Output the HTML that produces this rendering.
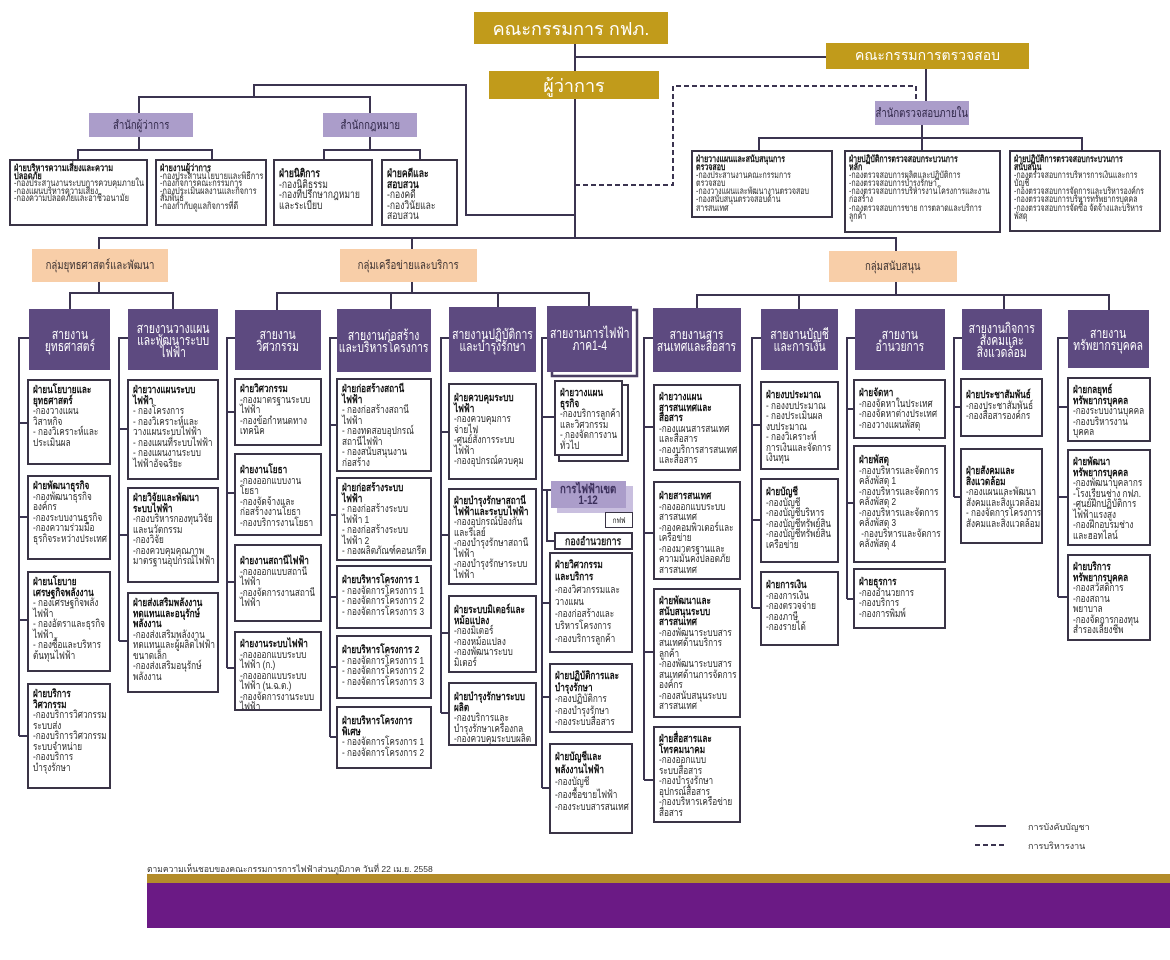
<!DOCTYPE html>
<html><head><meta charset="utf-8">
<style>
*{margin:0;padding:0;box-sizing:border-box}
html,body{width:1170px;height:960px;background:#fff;overflow:hidden;position:relative;font-family:"Liberation Sans","DejaVu Sans",sans-serif}
.g,.l,.p,.s,.c{position:absolute;display:flex;align-items:center;justify-content:center;text-align:center;white-space:nowrap;overflow:hidden}
.g{background:#c19b1b;color:#fff}
.l{background:#ab9dca;color:#2e2546;font-size:12px}
.p{background:#f8cea8;color:#3a3030;font-size:12px}
.s{background:#5d4a80;color:#fff;font-size:14px;line-height:12px}
.c{background:#fff;border:2px solid #3a3446;color:#222}
.l>span,.p>span,.c>span{display:inline-block;transform:scaleX(.8)}
.s>span{display:inline-block;transform:scaleX(.74)}
.b{position:absolute;background:#fff;border:2px solid #3a3446;padding:4px 3px 0 4px;font-size:10.5px;line-height:10.5px;white-space:nowrap;overflow:hidden;color:#2a2a2a}
.b>span{display:inline-block;transform:scaleX(.78);transform-origin:0 0}
.b b{color:#111}
.t{font-size:9.5px;line-height:7.6px;padding:4px 2px 0 3px}
.a{font-size:9.5px;line-height:8.1px;padding:4px 2px 0 3px}
.a>span{transform:scaleX(.74)}
.m{font-size:11px;line-height:10.5px}
svg{position:absolute;left:0;top:0}
</style></head><body>
<svg width="1170" height="960">
<g fill="none">
<rect x="552" y="310" width="85" height="66" stroke="#4a3f63" stroke-width="2.5"/>
<rect x="559" y="385" width="69" height="76" stroke="#3a3446" stroke-width="2"/>
<rect x="557" y="486" width="76" height="27" fill="#c9bfdf" stroke="none"/>
</g>
<g stroke="#3b3450" stroke-width="2" fill="none">
<path d="M575 44V238M575 57H826M926 69V101M575 215H466V85H254V97M139 113V97H370V113M139 137V150M78 159V150H212V159M370 137V150M324 159V150H420V159M922 125V150M759 150V138H1082V150"/>
<path d="M99 249V238H896V251M412 238V249M99 282V293M70 309V293H173V309M412 282V293M277 310V293H589V306M391 293V309M498 293V307M896 282V295M697 308V295H1109V310M799 295V309M1004 295V309"/>
<path d="M29 338H19V736M19 423H27M19 517H27M19 620H27M19 736H27"/>
<path d="M128 338H119V641M119 429H127M119 535H127M119 641H127"/>
<path d="M235 338H227V668M227 412H234M227 493H234M227 582H234M227 668H234"/>
<path d="M337 338H330V737M330 425H336M330 515H336M330 597H336M330 667H336M330 737H336"/>
<path d="M449 338H441V713M441 432H448M441 535H448M441 633H448M441 713H448"/>
<path d="M547 338H542V788M542 417H554M542 490H551M547 490V541H554M542 603H549M542 697H549M542 788H549"/>
<path d="M653 338H644V780M644 427H653M644 533H653M644 652H653M644 780H653"/>
<path d="M761 338H752V608M752 425H760M752 520H760M752 608H760"/>
<path d="M855 338H847V599M847 409H853M847 503H853M847 599H853"/>
<path d="M962 338H954V497M954 407H960M954 497H960"/>
<path d="M1068 338H1058V597M1058 407H1067M1058 497H1067M1058 597H1067"/>
<path d="M975 826H1006"/>
</g>
<g stroke="#3b3450" stroke-width="2" fill="none" stroke-dasharray="5 3">
<path d="M575 185H673V86H916V100"/>
<path d="M975 845H1006"/>
</g>
<rect x="147" y="874" width="1023" height="9" fill="#b38c2a"/>
<rect x="147" y="883" width="1023" height="45" fill="#6b1a85"/>
</svg>

<!-- top -->
<div class="g" style="left:474px;top:12px;width:194px;height:32px;font-size:18px">คณะกรรมการ กฟภ.</div>
<div class="g" style="left:826px;top:43px;width:203px;height:26px;font-size:14px">คณะกรรมการตรวจสอบ</div>
<div class="g" style="left:489px;top:71px;width:170px;height:28px;font-size:18px">ผู้ว่าการ</div>

<div class="l" style="left:875px;top:101px;width:94px;height:24px"><span>สำนักตรวจสอบภายใน</span></div>
<div class="l" style="left:89px;top:113px;width:104px;height:24px"><span>สำนักผู้ว่าการ</span></div>
<div class="l" style="left:323px;top:113px;width:94px;height:24px"><span>สำนักกฎหมาย</span></div>

<div class="b t" style="left:9px;top:159px;width:139px;height:67px"><span><b>ฝ่ายบริหารความเสี่ยงและความ<br>ปลอดภัย</b><br>-กองประสานงานระบบการควบคุมภายใน<br>-กองแผนบริหารความเสี่ยง<br>-กองความปลอดภัยและอาชีวอนามัย</span></div>
<div class="b t" style="left:155px;top:159px;width:112px;height:67px"><span><b>ฝ่ายงานผู้ว่าการ</b><br>-กองประสานนโยบายและพิธีการ<br>-กองกิจการคณะกรรมการ<br>-กองประเมินผลงานและกิจการ<br>สัมพันธ์<br>-กองกำกับดูแลกิจการที่ดี</span></div>
<div class="b m" style="left:273px;top:159px;width:100px;height:67px;padding-top:8px"><span><b>ฝ่ายนิติการ</b><br>-กองนิติธรรม<br>-กองที่ปรึกษากฎหมาย<br>และระเบียบ</span></div>
<div class="b m" style="left:381px;top:159px;width:77px;height:67px;padding-top:8px"><span><b>ฝ่ายคดีและ<br>สอบสวน</b><br>-กองคดี<br>-กองวินัยและ<br>สอบสวน</span></div>

<div class="b a" style="left:691px;top:150px;width:142px;height:68px"><span><b>ฝ่ายวางแผนและสนับสนุนการ<br>ตรวจสอบ</b><br>-กองประสานงานคณะกรรมการ<br>ตรวจสอบ<br>-กองวางแผนและพัฒนางานตรวจสอบ<br>-กองสนับสนุนตรวจสอบด้าน<br>สารสนเทศ</span></div>
<div class="b a" style="left:844px;top:150px;width:157px;height:83px"><span><b>ฝ่ายปฏิบัติการตรวจสอบกระบวนการ<br>หลัก</b><br>-กองตรวจสอบการผลิตและปฏิบัติการ<br>-กองตรวจสอบการบำรุงรักษา<br>-กองตรวจสอบการบริหารงานโครงการและงาน<br>ก่อสร้าง<br>-กองตรวจสอบการขาย การตลาดและบริการ<br>ลูกค้า</span></div>
<div class="b a" style="left:1009px;top:150px;width:152px;height:82px"><span><b>ฝ่ายปฏิบัติการตรวจสอบกระบวนการ<br>สนับสนุน</b><br>-กองตรวจสอบการบริหารการเงินและการ<br>บัญชี<br>-กองตรวจสอบการจัดการและบริหารองค์กร<br>-กองตรวจสอบการบริหารทรัพยากรบุคคล<br>-กองตรวจสอบการจัดซื้อ จัดจ้างและบริหาร<br>พัสดุ</span></div>

<div class="p" style="left:32px;top:249px;width:136px;height:33px"><span>กลุ่มยุทธศาสตร์และพัฒนา</span></div>
<div class="p" style="left:340px;top:249px;width:137px;height:33px"><span>กลุ่มเครือข่ายและบริการ</span></div>
<div class="p" style="left:829px;top:251px;width:128px;height:31px"><span>กลุ่มสนับสนุน</span></div>

<div class="s" style="left:29px;top:309px;width:81px;height:61px"><span>สายงาน<br>ยุทธศาสตร์</span></div>
<div class="s" style="left:128px;top:309px;width:90px;height:61px"><span>สายงานวางแผน<br>และพัฒนาระบบ<br>ไฟฟ้า</span></div>
<div class="s" style="left:235px;top:310px;width:86px;height:60px"><span>สายงาน<br>วิศวกรรม</span></div>
<div class="s" style="left:337px;top:309px;width:94px;height:63px"><span>สายงานก่อสร้าง<br>และบริหารโครงการ</span></div>
<div class="s" style="left:449px;top:307px;width:87px;height:65px"><span>สายงานปฏิบัติการ<br>และบำรุงรักษา</span></div>
<div class="s" style="left:547px;top:306px;width:85px;height:66px"><span>สายงานการไฟฟ้า<br>ภาค1-4</span></div>
<div class="s" style="left:653px;top:308px;width:88px;height:64px"><span>สายงานสาร<br>สนเทศและสื่อสาร</span></div>
<div class="s" style="left:761px;top:309px;width:77px;height:61px"><span>สายงานบัญชี<br>และการเงิน</span></div>
<div class="s" style="left:855px;top:309px;width:90px;height:61px"><span>สายงาน<br>อำนวยการ</span></div>
<div class="s" style="left:962px;top:309px;width:80px;height:61px"><span>สายงานกิจการ<br>สังคมและ<br>สิ่งแวดล้อม</span></div>
<div class="s" style="left:1068px;top:310px;width:81px;height:58px"><span>สายงาน<br>ทรัพยากรบุคคล</span></div>

<!-- col1 -->
<div class="b" style="left:27px;top:379px;width:84px;height:86px"><span><b>ฝ่ายนโยบายและ<br>ยุทธศาสตร์</b><br>-กองวางแผน<br>วิสาหกิจ<br>- กองวิเคราะห์และ<br>ประเมินผล</span></div>
<div class="b" style="left:27px;top:475px;width:84px;height:85px"><span><b>ฝ่ายพัฒนาธุรกิจ</b><br>-กองพัฒนาธุรกิจ<br>องค์กร<br>-กองระบบงานธุรกิจ<br>-กองความร่วมมือ<br>ธุรกิจระหว่างประเทศ</span></div>
<div class="b" style="left:27px;top:571px;width:84px;height:101px"><span><b>ฝ่ายนโยบาย<br>เศรษฐกิจพลังงาน</b><br>- กองเศรษฐกิจพลัง<br>ไฟฟ้า<br>- กองอัตราและธุรกิจ<br>ไฟฟ้า<br>- กองซื้อและบริหาร<br>ต้นทุนไฟฟ้า</span></div>
<div class="b" style="left:27px;top:683px;width:84px;height:106px"><span><b>ฝ่ายบริการ<br>วิศวกรรม</b><br>-กองบริการวิศวกรรม<br>ระบบส่ง<br>-กองบริการวิศวกรรม<br>ระบบจำหน่าย<br>-กองบริการ<br>บำรุงรักษา</span></div>

<!-- col2 -->
<div class="b" style="left:127px;top:379px;width:92px;height:101px"><span><b>ฝ่ายวางแผนระบบ<br>ไฟฟ้า</b><br>- กองโครงการ<br>- กองวิเคราะห์และ<br>วางแผนระบบไฟฟ้า<br>- กองแผนที่ระบบไฟฟ้า<br>- กองแผนงานระบบ<br>ไฟฟ้าอัจฉริยะ</span></div>
<div class="b" style="left:127px;top:487px;width:92px;height:96px"><span><b>ฝ่ายวิจัยและพัฒนา<br>ระบบไฟฟ้า</b><br>-กองบริหารกองทุนวิจัย<br>และนวัตกรรม<br>-กองวิจัย<br>-กองควบคุมคุณภาพ<br>มาตรฐานอุปกรณ์ไฟฟ้า</span></div>
<div class="b" style="left:127px;top:592px;width:92px;height:101px"><span><b>ฝ่ายส่งเสริมพลังงาน<br>ทดแทนและอนุรักษ์<br>พลังงาน</b><br>-กองส่งเสริมพลังงาน<br>ทดแทนและผู้ผลิตไฟฟ้า<br>ขนาดเล็ก<br>-กองส่งเสริมอนุรักษ์<br>พลังงาน</span></div>

<!-- col3 -->
<div class="b" style="left:234px;top:378px;width:88px;height:68px"><span><b>ฝ่ายวิศวกรรม</b><br>-กองมาตรฐานระบบ<br>ไฟฟ้า<br>-กองข้อกำหนดทาง<br>เทคนิค</span></div>
<div class="b" style="left:234px;top:453px;width:88px;height:83px;padding-top:10px"><span><b>ฝ่ายงานโยธา</b><br>-กองออกแบบงาน<br>โยธา<br>-กองจัดจ้างและ<br>ก่อสร้างงานโยธา<br>-กองบริการงานโยธา</span></div>
<div class="b" style="left:234px;top:544px;width:88px;height:78px;padding-top:10px"><span><b>ฝ่ายงานสถานีไฟฟ้า</b><br>-กองออกแบบสถานี<br>ไฟฟ้า<br>-กองจัดการงานสถานี<br>ไฟฟ้า</span></div>
<div class="b" style="left:234px;top:631px;width:88px;height:80px;padding-top:6px"><span><b>ฝ่ายงานระบบไฟฟ้า</b><br>-กองออกแบบระบบ<br>ไฟฟ้า (ก.)<br>-กองออกแบบระบบ<br>ไฟฟ้า (น.ฉ.ต.)<br>-กองจัดการงานระบบ<br>ไฟฟ้า</span></div>

<!-- col4 -->
<div class="b" style="left:336px;top:378px;width:96px;height:94px"><span><b>ฝ่ายก่อสร้างสถานี<br>ไฟฟ้า</b><br>- กองก่อสร้างสถานี<br>ไฟฟ้า<br>- กองทดสอบอุปกรณ์<br>สถานีไฟฟ้า<br>- กองสนับสนุนงาน<br>ก่อสร้าง</span></div>
<div class="b" style="left:336px;top:477px;width:96px;height:84px"><span><b>ฝ่ายก่อสร้างระบบ<br>ไฟฟ้า</b><br>- กองก่อสร้างระบบ<br>ไฟฟ้า 1<br>- กองก่อสร้างระบบ<br>ไฟฟ้า 2<br>- กองผลิตภัณฑ์คอนกรีต</span></div>
<div class="b" style="left:336px;top:565px;width:96px;height:64px;padding-top:8px"><span><b>ฝ่ายบริหารโครงการ 1</b><br>- กองจัดการโครงการ 1<br>- กองจัดการโครงการ 2<br>- กองจัดการโครงการ 3</span></div>
<div class="b" style="left:336px;top:635px;width:96px;height:64px;padding-top:8px"><span><b>ฝ่ายบริหารโครงการ 2</b><br>- กองจัดการโครงการ 1<br>- กองจัดการโครงการ 2<br>- กองจัดการโครงการ 3</span></div>
<div class="b" style="left:336px;top:706px;width:96px;height:63px;padding-top:8px"><span><b>ฝ่ายบริหารโครงการ<br>พิเศษ</b><br>- กองจัดการโครงการ 1<br>- กองจัดการโครงการ 2</span></div>

<!-- col5 -->
<div class="b" style="left:448px;top:383px;width:89px;height:97px;padding-top:8px"><span><b>ฝ่ายควบคุมระบบ<br>ไฟฟ้า</b><br>-กองควบคุมการ<br>จ่ายไฟ<br>-ศูนย์สั่งการระบบ<br>ไฟฟ้า<br>-กองอุปกรณ์ควบคุม</span></div>
<div class="b" style="left:448px;top:488px;width:89px;height:97px;padding-top:6px"><span><b>ฝ่ายบำรุงรักษาสถานี<br>ไฟฟ้าและระบบไฟฟ้า</b><br>-กองอุปกรณ์ป้องกัน<br>และรีเลย์<br>-กองบำรุงรักษาสถานี<br>ไฟฟ้า<br>-กองบำรุงรักษาระบบ<br>ไฟฟ้า</span></div>
<div class="b" style="left:448px;top:595px;width:89px;height:78px;padding-top:8px"><span><b>ฝ่ายระบบมิเตอร์และ<br>หม้อแปลง</b><br>-กองมิเตอร์<br>-กองหม้อแปลง<br>-กองพัฒนาระบบ<br>มิเตอร์</span></div>
<div class="b" style="left:448px;top:682px;width:89px;height:64px;padding-top:8px"><span><b>ฝ่ายบำรุงรักษาระบบ<br>ผลิต</b><br>-กองบริการและ<br>บำรุงรักษาเครื่องกล<br>-กองควบคุมระบบผลิต</span></div>

<!-- col6 -->
<div class="b" style="left:554px;top:380px;width:69px;height:76px;padding-top:6px"><span><b>ฝ่ายวางแผน<br>ธุรกิจ</b><br>-กองบริการลูกค้า<br>และวิศวกรรม<br>- กองจัดการงาน<br>ทั่วไป</span></div>
<div class="l" style="left:551px;top:481px;width:75px;height:27px;font-size:12px;line-height:11px;font-weight:bold;color:#3a2e5a"><span>การไฟฟ้าเขต<br>1-12</span></div>
<div class="c" style="left:605px;top:512px;width:28px;height:16px;font-size:8px;border-width:1.5px"><span>กฟฟ</span></div>
<div class="c" style="left:554px;top:532px;width:79px;height:18px;font-size:11px;font-weight:bold"><span>กองอำนวยการ</span></div>
<div class="b" style="left:549px;top:552px;width:84px;height:101px;line-height:12.3px;padding-top:5px"><span><b>ฝ่ายวิศวกรรม<br>และบริการ</b><br>-กองวิศวกรรมและ<br>วางแผน<br>-กองก่อสร้างและ<br>บริหารโครงการ<br>-กองบริการลูกค้า</span></div>
<div class="b" style="left:549px;top:663px;width:84px;height:70px;line-height:11.5px;padding-top:6px"><span><b>ฝ่ายปฏิบัติการและ<br>บำรุงรักษา</b><br>-กองปฏิบัติการ<br>-กองบำรุงรักษา<br>-กองระบบสื่อสาร</span></div>
<div class="b" style="left:549px;top:743px;width:84px;height:91px;line-height:12.5px;padding-top:6px"><span><b>ฝ่ายบัญชีและ<br>พลังงานไฟฟ้า</b><br>-กองบัญชี<br>-กองซื้อขายไฟฟ้า<br>-กองระบบสารสนเทศ</span></div>

<!-- col7 -->
<div class="b" style="left:653px;top:384px;width:88px;height:87px;padding-top:6px"><span><b>ฝ่ายวางแผน<br>สารสนเทศและ<br>สื่อสาร</b><br>-กองแผนสารสนเทศ<br>และสื่อสาร<br>-กองบริการสารสนเทศ<br>และสื่อสาร</span></div>
<div class="b" style="left:653px;top:481px;width:88px;height:99px;padding-top:8px"><span><b>ฝ่ายสารสนเทศ</b><br>-กองออกแบบระบบ<br>สารสนเทศ<br>-กองคอมพิวเตอร์และ<br>เครือข่าย<br>-กองมาตรฐานและ<br>ความมั่นคงปลอดภัย<br>สารสนเทศ</span></div>
<div class="b" style="left:653px;top:588px;width:88px;height:130px;padding-top:6px"><span><b>ฝ่ายพัฒนาและ<br>สนับสนุนระบบ<br>สารสนเทศ</b><br>-กองพัฒนาระบบสาร<br>สนเทศด้านบริการ<br>ลูกค้า<br>-กองพัฒนาระบบสาร<br>สนเทศด้านการจัดการ<br>องค์กร<br>-กองสนับสนุนระบบ<br>สารสนเทศ</span></div>
<div class="b" style="left:653px;top:726px;width:88px;height:97px;padding-top:6px"><span><b>ฝ่ายสื่อสารและ<br>โทรคมนาคม</b><br>-กองออกแบบ<br>ระบบสื่อสาร<br>-กองบำรุงรักษา<br>อุปกรณ์สื่อสาร<br>-กองบริหารเครือข่าย<br>สื่อสาร</span></div>

<!-- col8 -->
<div class="b" style="left:760px;top:381px;width:79px;height:89px;padding-top:7px"><span><b>ฝ่ายงบประมาณ</b><br>- กองงบประมาณ<br>- กองประเมินผล<br>งบประมาณ<br>- กองวิเคราะห์<br>การเงินและจัดการ<br>เงินทุน</span></div>
<div class="b" style="left:760px;top:478px;width:79px;height:85px;padding-top:7px"><span><b>ฝ่ายบัญชี</b><br>-กองบัญชี<br>-กองบัญชีบริหาร<br>-กองบัญชีทรัพย์สิน<br>-กองบัญชีทรัพย์สิน<br>เครือข่าย</span></div>
<div class="b" style="left:760px;top:571px;width:79px;height:75px;padding-top:7px"><span><b>ฝ่ายการเงิน</b><br>-กองการเงิน<br>-กองตรวจจ่าย<br>-กองภาษี<br>-กองรายได้</span></div>

<!-- col9 -->
<div class="b" style="left:853px;top:379px;width:93px;height:60px;padding-top:7px"><span><b>ฝ่ายจัดหา</b><br>-กองจัดหาในประเทศ<br>-กองจัดหาต่างประเทศ<br>-กองวางแผนพัสดุ</span></div>
<div class="b" style="left:853px;top:445px;width:93px;height:118px;padding-top:8px"><span><b>ฝ่ายพัสดุ</b><br>-กองบริหารและจัดการ<br>คลังพัสดุ 1<br>-กองบริหารและจัดการ<br>คลังพัสดุ 2<br>-กองบริหารและจัดการ<br>คลังพัสดุ 3<br>&nbsp;-กองบริหารและจัดการ<br>คลังพัสดุ 4</span></div>
<div class="b" style="left:853px;top:568px;width:93px;height:61px;padding-top:7px"><span><b>ฝ่ายธุรการ</b><br>-กองอำนวยการ<br>-กองบริการ<br>-กองการพิมพ์</span></div>

<!-- col10 -->
<div class="b" style="left:960px;top:378px;width:83px;height:59px;padding-top:10px"><span><b>ฝ่ายประชาสัมพันธ์</b><br>-กองประชาสัมพันธ์<br>-กองสื่อสารองค์กร</span></div>
<div class="b" style="left:960px;top:448px;width:83px;height:96px;padding-top:16px"><span><b>ฝ่ายสังคมและ<br>สิ่งแวดล้อม</b><br>-กองแผนและพัฒนา<br>สังคมและสิ่งแวดล้อม<br>- กองจัดการโครงการ<br>สังคมและสิ่งแวดล้อม</span></div>

<!-- col11 -->
<div class="b" style="left:1067px;top:377px;width:84px;height:65px;padding-top:6px"><span><b>ฝ่ายกลยุทธ์<br>ทรัพยากรบุคคล</b><br>-กองระบบงานบุคคล<br>-กองบริหารงาน<br>บุคคล</span></div>
<div class="b" style="left:1067px;top:449px;width:84px;height:97px;padding-top:6px"><span><b>ฝ่ายพัฒนา<br>ทรัพยากรบุคคล</b><br>-กองพัฒนาบุคลากร<br>-โรงเรียนช่าง กฟภ.<br>-ศูนย์ฝึกปฏิบัติการ<br>ไฟฟ้าแรงสูง<br>-กองฝึกอบรมช่าง<br>และฮอทไลน์</span></div>
<div class="b" style="left:1067px;top:554px;width:84px;height:87px;padding-top:6px"><span><b>ฝ่ายบริการ<br>ทรัพยากรบุคคล</b><br>-กองสวัสดิการ<br>-กองสถาน<br>พยาบาล<br>-กองจัดการกองทุน<br>สำรองเลี้ยงชีพ</span></div>

<div style="position:absolute;left:1028px;top:820px;font-size:9px;color:#333;white-space:nowrap">การบังคับบัญชา</div>
<div style="position:absolute;left:1028px;top:839px;font-size:9px;color:#333;white-space:nowrap">การบริหารงาน</div>
<div style="position:absolute;left:147px;top:862px;font-size:8.5px;color:#333;white-space:nowrap">ตามความเห็นชอบของคณะกรรมการการไฟฟ้าส่วนภูมิภาค วันที่ 22 เม.ย. 2558</div>
</body></html>
